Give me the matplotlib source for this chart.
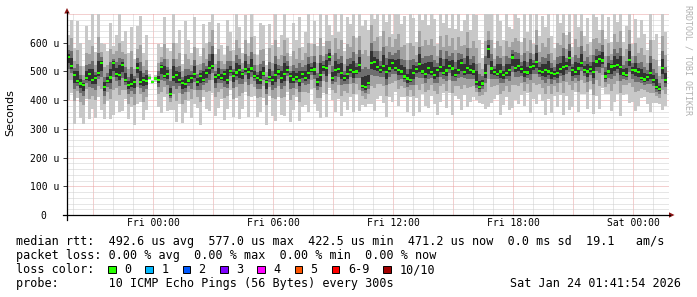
import numpy as np
import matplotlib
matplotlib.use("Agg")
import matplotlib.pyplot as plt
from matplotlib.patches import Polygon, Rectangle
from matplotlib.lines import Line2D

# ── data (µs), one value per 9-minute step, Thu 19:42 .. Sat 01:42 ──────────
MED = [
    551, 520, 488, 466, 458, 453, 478, 490, 470, 477,
    495, 529, 446, 467, 479, 529, 492, 488, 522, 470,
    453, 455, 463, 512, 463, 470, 466, 478, 462, 475,
    470, 515, 485, 492, 422, 480, 488, 470, 460, 455,
    468, 478, 490, 462, 485, 470, 495, 512, 520, 480,
    488, 478, 492, 470, 502, 485, 496, 505, 490, 508,
    498, 510, 485, 476, 470, 493, 462, 480, 471, 488,
    500, 478, 490, 505, 485, 472, 480, 468, 490, 478,
    495, 505, 507, 463, 488, 515, 512, 551, 477, 505,
    508, 495, 477, 490, 505, 498, 500, 522, 449, 445,
    460, 530, 532, 515, 505, 520, 498, 510, 530, 512,
    505, 500, 482, 475, 470, 495, 508, 525, 500, 490,
    512, 498, 488, 505, 515, 495, 503, 520, 510, 488,
    505, 530, 498, 512, 505, 500, 462, 445, 458, 495,
    577, 510, 498, 492, 500, 488, 495, 505, 548, 512,
    520, 508, 498, 496, 515, 520, 533, 502, 498, 505,
    500, 495, 490, 495, 508, 515, 518, 547, 505, 498,
    510, 530, 505, 500, 508, 498, 535, 543, 538, 482,
    500, 517, 520, 522, 515, 493, 488, 540, 505, 503,
    498, 478, 472, 480, 495, 470, 445, 438, 512, 471,
]
# slowest ping, distance above the median
MAX_UP = [
    75, 160, 95, 210, 140, 65, 180, 120, 230, 90,
    215, 70, 150, 105, 190, 60, 135, 225, 85, 170,
    110, 200, 80, 145, 230, 95, 160, 14, 9, 12,
    125, 70, 205, 90, 150, 230, 110, 175, 65, 220,
    140, 85, 200, 120, 70, 195, 105, 160, 235, 80,
    180, 115, 65, 210, 135, 90, 225, 150, 75, 190,
    100, 215, 140, 80, 200, 170, 60, 185, 120, 230,
    85, 150, 235, 110, 70, 195, 130, 220, 95, 160,
    205, 90, 170, 125, 240, 75, 185, 110, 150, 215,
    130, 225, 95, 200, 160, 240, 115, 190, 210, 235,
    185, 240, 150, 200, 120, 230, 175, 215, 100, 205,
    235, 165, 210, 125, 240, 190, 95, 220, 180, 230,
    150, 225, 195, 90, 215, 175, 235, 130, 205, 160,
    220, 110, 180, 240, 140, 200, 235, 165, 90, 215,
    130, 190, 85, 225, 175, 120, 210, 150, 100, 200,
    165, 95, 230, 140, 185, 75, 215, 120, 195, 150,
    225, 130, 90, 205, 160, 230, 110, 175, 80, 220,
    145, 210, 120, 185, 95, 225, 155, 100, 200, 130,
    190, 85, 215, 150, 235, 110, 170, 205, 90, 180,
    120, 200, 160, 95, 225, 140, 185, 80, 210, 165,
]
# fastest ping, distance below the median
MIN_DN = [
    150, 95, 170, 60, 120, 135, 75, 155, 100, 140,
    85, 165, 110, 70, 145, 180, 95, 130, 160, 65,
    120, 80, 150, 125, 70, 140, 100, 9, 7, 11,
    95, 160, 75, 130, 55, 115, 165, 85, 140, 100,
    70, 140, 105, 90, 170, 60, 125, 150, 95, 135,
    115, 75, 160, 100, 65, 145, 90, 170, 120, 80,
    155, 100, 70, 135, 110, 85, 150, 65, 125, 160,
    90, 130, 145, 75, 160, 105, 70, 140, 115, 95,
    135, 65, 120, 100, 150, 90, 170, 110, 75, 145,
    105, 150, 85, 125, 95, 140, 80, 160, 65, 70,
    75, 145, 170, 110, 90, 130, 155, 100, 135, 85,
    125, 90, 70, 115, 60, 150, 100, 165, 80, 110,
    140, 85, 100, 155, 120, 70, 130, 95, 160, 75,
    100, 165, 80, 135, 110, 90, 60, 55, 70, 125,
    200, 120, 95, 75, 150, 105, 85, 140, 175, 110,
    135, 90, 120, 70, 160, 115, 145, 80, 100, 155,
    95, 140, 75, 120, 90, 165, 105, 180, 130, 70,
    150, 110, 85, 130, 70, 145, 120, 175, 95, 60,
    80, 155, 125, 100, 170, 75, 65, 150, 110, 140,
    120, 70, 60, 95, 135, 80, 55, 50, 145, 90,
]
B2_UP = [
    40, 95, 50, 110, 60, 35, 85, 70, 120, 45,
    125, 40, 70, 55, 100, 30, 80, 110, 45, 90,
    55, 115, 45, 65, 130, 50, 75, 7, 5, 6,
    60, 35, 110, 50, 85, 120, 55, 95, 40, 105,
    75, 45, 95, 60, 40, 110, 50, 90, 125, 45,
    90, 60, 35, 120, 70, 50, 115, 75, 40, 100,
    55, 110, 75, 45, 105, 85, 35, 100, 60, 120,
    45, 80, 120, 60, 35, 100, 65, 115, 50, 85,
    105, 50, 90, 65, 130, 40, 95, 55, 80, 110,
    70, 115, 50, 105, 80, 125, 60, 100, 110, 130,
    95, 130, 75, 105, 65, 120, 90, 110, 55, 100,
    125, 85, 110, 65, 130, 95, 50, 115, 90, 120,
    80, 115, 100, 50, 110, 90, 125, 70, 105, 85,
    115, 60, 95, 125, 75, 105, 120, 85, 50, 110,
    65, 100, 45, 115, 90, 65, 110, 80, 55, 105,
    85, 50, 120, 75, 95, 40, 110, 65, 100, 80,
    115, 70, 50, 105, 85, 120, 60, 90, 45, 115,
    75, 110, 65, 95, 50, 115, 80, 55, 105, 70,
    100, 45, 110, 80, 125, 60, 90, 105, 50, 95,
    65, 105, 85, 50, 115, 75, 95, 45, 110, 85,
]
B2_DN = [
    80, 50, 90, 35, 65, 70, 40, 85, 55, 75,
    45, 90, 60, 40, 75, 95, 50, 70, 85, 35,
    65, 45, 80, 65, 40, 75, 55, 5, 4, 6,
    50, 85, 40, 70, 30, 60, 90, 45, 75, 55,
    40, 75, 55, 50, 90, 35, 65, 80, 50, 70,
    60, 40, 85, 55, 35, 80, 50, 90, 65, 45,
    85, 55, 40, 70, 60, 45, 80, 35, 65, 85,
    50, 70, 80, 40, 85, 55, 40, 75, 60, 50,
    70, 35, 65, 55, 80, 50, 90, 60, 40, 80,
    55, 80, 45, 65, 50, 75, 45, 85, 35, 40,
    40, 80, 90, 60, 50, 70, 85, 55, 70, 45,
    65, 50, 40, 60, 35, 80, 55, 90, 45, 60,
    75, 45, 55, 85, 65, 40, 70, 50, 85, 40,
    55, 90, 45, 70, 60, 50, 35, 30, 40, 65,
    105, 65, 50, 40, 80, 55, 45, 75, 95, 60,
    70, 50, 65, 40, 85, 60, 80, 45, 55, 85,
    50, 75, 40, 65, 50, 90, 55, 95, 70, 40,
    80, 60, 45, 70, 40, 80, 65, 95, 50, 35,
    45, 85, 65, 55, 90, 40, 35, 80, 60, 75,
    65, 40, 35, 50, 70, 45, 30, 30, 75, 50,
]
B3_UP = [
    22, 50, 25, 60, 30, 18, 45, 35, 65, 22,
    70, 20, 35, 28, 55, 15, 40, 60, 22, 45,
    28, 60, 22, 35, 70, 25, 40, 3, 2, 3,
    30, 18, 60, 25, 45, 65, 28, 50, 20, 55,
    40, 22, 50, 30, 20, 58, 25, 48, 68, 22,
    48, 30, 18, 65, 35, 25, 60, 38, 20, 52,
    28, 58, 38, 22, 55, 45, 18, 52, 30, 65,
    22, 42, 65, 30, 18, 52, 32, 60, 25, 45,
    55, 25, 48, 32, 70, 20, 50, 28, 42, 58,
    35, 60, 25, 55, 42, 68, 30, 52, 58, 70,
    50, 70, 38, 55, 32, 65, 48, 58, 28, 52,
    68, 45, 58, 32, 70, 50, 25, 60, 48, 65,
    42, 60, 52, 25, 58, 48, 68, 35, 55, 45,
    60, 30, 50, 68, 38, 55, 65, 45, 25, 58,
    32, 52, 22, 60, 48, 32, 58, 42, 28, 55,
    45, 25, 65, 38, 50, 20, 58, 32, 52, 42,
    60, 35, 25, 55, 45, 65, 30, 48, 22, 60,
    38, 58, 32, 50, 25, 60, 42, 28, 55, 35,
    52, 22, 58, 42, 68, 30, 48, 55, 25, 50,
    32, 55, 45, 25, 60, 38, 50, 22, 58, 45,
]
B3_DN = [
    42, 25, 48, 18, 32, 38, 20, 45, 28, 40,
    22, 48, 30, 20, 40, 50, 25, 38, 45, 18,
    32, 22, 42, 35, 20, 40, 28, 2, 2, 3,
    25, 45, 20, 38, 15, 30, 48, 22, 40, 28,
    20, 40, 28, 25, 48, 18, 35, 42, 25, 38,
    30, 20, 45, 28, 18, 42, 25, 48, 35, 22,
    45, 28, 20, 38, 30, 22, 42, 18, 35, 45,
    25, 38, 42, 20, 45, 28, 20, 40, 30, 25,
    38, 18, 35, 28, 42, 25, 48, 30, 20, 42,
    28, 42, 22, 35, 25, 40, 22, 45, 18, 20,
    20, 42, 48, 30, 25, 38, 45, 28, 38, 22,
    35, 25, 20, 30, 18, 42, 28, 48, 22, 30,
    40, 22, 28, 45, 35, 20, 38, 25, 45, 20,
    28, 48, 22, 38, 30, 25, 18, 15, 20, 35,
    55, 35, 25, 20, 42, 28, 22, 40, 50, 30,
    38, 25, 35, 20, 45, 30, 42, 22, 28, 45,
    25, 40, 20, 35, 25, 48, 28, 50, 38, 20,
    42, 30, 22, 38, 20, 42, 35, 50, 25, 18,
    22, 45, 35, 28, 48, 20, 18, 42, 30, 40,
    35, 20, 18, 25, 38, 22, 15, 15, 40, 25,
]
B4_UP = [
    10, 28, 12, 35, 14, 8, 22, 18, 38, 10,
    40, 9, 18, 12, 30, 7, 20, 35, 10, 24,
    13, 35, 10, 18, 40, 12, 20, 1, 1, 1,
    15, 8, 35, 12, 22, 38, 13, 28, 9, 30,
    20, 10, 28, 15, 9, 32, 12, 25, 40, 10,
    25, 14, 8, 38, 17, 12, 35, 18, 9, 28,
    13, 32, 18, 10, 30, 22, 8, 28, 14, 38,
    10, 22, 38, 14, 8, 28, 15, 35, 12, 22,
    30, 12, 25, 15, 40, 9, 27, 13, 22, 32,
    17, 35, 12, 30, 20, 40, 14, 28, 32, 40,
    27, 40, 18, 30, 15, 38, 25, 32, 13, 28,
    38, 22, 32, 15, 40, 27, 12, 35, 25, 38,
    22, 35, 28, 12, 32, 25, 40, 17, 30, 22,
    35, 14, 27, 40, 18, 30, 38, 22, 12, 32,
    15, 28, 10, 35, 25, 15, 32, 20, 13, 30,
    22, 12, 38, 18, 27, 9, 32, 15, 28, 20,
    35, 17, 12, 30, 22, 38, 14, 25, 10, 35,
    18, 32, 15, 27, 12, 35, 20, 13, 30, 17,
    28, 10, 32, 20, 40, 14, 25, 30, 12, 27,
    15, 30, 22, 12, 35, 18, 27, 10, 32, 22,
]
B4_DN = [
    22, 12, 27, 8, 15, 20, 9, 25, 13, 20,
    10, 27, 14, 9, 20, 28, 12, 18, 25, 8,
    15, 10, 22, 18, 9, 20, 13, 1, 1, 1,
    12, 25, 9, 20, 7, 14, 27, 10, 22, 13,
    9, 20, 13, 12, 27, 8, 18, 22, 12, 20,
    14, 9, 25, 13, 8, 22, 12, 27, 18, 10,
    25, 13, 9, 20, 14, 10, 22, 8, 18, 25,
    12, 20, 22, 9, 25, 13, 9, 20, 14, 12,
    20, 8, 18, 13, 22, 12, 27, 14, 9, 22,
    13, 22, 10, 18, 12, 20, 10, 25, 8, 9,
    9, 22, 27, 14, 12, 20, 25, 13, 20, 10,
    18, 12, 9, 14, 8, 22, 13, 27, 10, 14,
    20, 10, 13, 25, 18, 9, 20, 12, 25, 9,
    13, 27, 10, 20, 14, 12, 8, 7, 9, 18,
    30, 18, 12, 9, 22, 13, 10, 20, 28, 14,
    20, 12, 18, 9, 25, 14, 22, 10, 13, 25,
    12, 20, 9, 18, 12, 27, 13, 28, 20, 9,
    22, 14, 10, 20, 9, 22, 18, 28, 12, 8,
    10, 25, 18, 13, 27, 9, 8, 22, 14, 20,
    18, 9, 8, 12, 20, 10, 7, 7, 22, 12,
]

START_H = -4.3      # hours relative to Fri 00:00
STEP_H = 0.15       # 9 minutes

X_TICKS = [0, 6, 12, 18, 24]
X_TICK_LABELS = ["Fri 00:00", "Fri 06:00", "Fri 12:00", "Fri 18:00", "Sat 00:00"]
Y_TICKS = [0, 100, 200, 300, 400, 500, 600]
Y_TICK_LABELS = ["0  ", "100 u", "200 u", "300 u", "400 u", "500 u", "600 u"]

LOSS_LABELS = ["0", "1", "2", "3", "4", "5", "6-9", "10/10"]
LOSS_COLORS = ["#26ff00", "#00b8ff", "#0059ff", "#7e00ff",
               "#ff00ff", "#ff5500", "#ff0000", "#a10000"]

ROW_MEDIAN = ("median rtt:  492.6 us avg  577.0 us max  422.5 us min  "
              "471.2 us now  0.0 ms sd  19.1   am/s")
ROW_LOSS = "packet loss: 0.00 % avg  0.00 % max  0.00 % min  0.00 % now"
ROW_COLOR = "loss color:"
ROW_PROBE = "probe:       10 ICMP Echo Pings (56 Bytes) every 300s"
STAMP = "Sat Jan 24 01:41:54 2026"

# ── style ───────────────────────────────────────────────────────────────────
MONO = "DejaVu Sans Mono"
SMOKE = ["#c8c8c8", "#a2a2a2", "#6e6e6e", "#323232"]
MED_COLOR = LOSS_COLORS[0]
GRID_MINOR = "#cfcfcf"
GRID_MAJOR = "#e8a0a0"
ARROW = "#8b1414"

W, H = 697, 297
fig = plt.figure(figsize=(W / 100, H / 100), dpi=100, facecolor="white")
ax = fig.add_axes([67 / W, (H - 215) / H, 602 / W, 201 / H])
ax.set_xlim(-4.3, 25.8)
ax.set_ylim(0, 700)
for s in ax.spines.values():
    s.set_visible(False)

# grid, behind the smoke
dots = (0, (1, 1))
for h in range(-4, 26):
    ax.axvline(h, color=GRID_MAJOR if h % 3 == 0 else GRID_MINOR,
               lw=0.72, ls=dots, zorder=0)
for v in range(20, 701, 20):
    ax.axhline(v, color=GRID_MAJOR if v % 100 == 0 else GRID_MINOR,
               lw=0.72, ls=dots, zorder=0)

# smoke bands
med = np.array(MED, float)
edges = START_H + STEP_H * np.arange(len(med) + 1)


def band(lo, hi, color, z):
    lo = np.append(lo, lo[-1])
    hi = np.append(hi, hi[-1])
    ax.fill_between(edges, lo, hi, step="post", color=color,
                    linewidth=0, zorder=z)


band(med - np.array(MIN_DN), med + np.array(MAX_UP), SMOKE[0], 1)
band(med - np.array(B2_DN), med + np.array(B2_UP), SMOKE[1], 2)
band(med - np.array(B3_DN), med + np.array(B3_UP), SMOKE[2], 3)
band(med - np.array(B4_DN), med + np.array(B4_UP), SMOKE[3], 4)

# median marks, one per step
ax.bar(edges[:-1], 8, bottom=med - 4, width=STEP_H, align="edge",
       color=MED_COLOR, linewidth=0, zorder=5)

# ticks
ax.set_xticks(X_TICKS, labels=X_TICK_LABELS)
ax.set_yticks(Y_TICKS, labels=Y_TICK_LABELS)
ax.tick_params(axis="x", length=0, pad=2.5, labelsize=7)
ax.tick_params(axis="y", direction="out", length=2.9, width=0.72,
               color="#404040", pad=2.9, labelsize=7)
for lab in ax.get_xticklabels() + ax.get_yticklabels():
    lab.set_fontfamily(MONO)

# ── overlay in pixel coordinates: axis lines, arrows, legend ────────────────
ov = fig.add_axes([0, 0, 1, 1])
ov.set_xlim(0, W)
ov.set_ylim(H, 0)
ov.axis("off")
ov.patch.set_visible(False)

ov.add_line(Line2D([62.5, 669.5], [215, 215], color="black", lw=0.9))
ov.add_line(Line2D([67, 67], [219.5, 12], color="black", lw=0.9))
ov.add_patch(Polygon([(669, 212.3), (674.5, 215), (669, 217.7)], closed=True,
                     color=ARROW, lw=0))
ov.add_patch(Polygon([(64.3, 13.5), (67, 8), (69.7, 13.5)], closed=True,
                     color=ARROW, lw=0))

fig.text(10.5 / W, 1 - 113 / H, "Seconds", rotation=90, ha="center",
         va="center", fontsize=8, family="DejaVu Sans")
fig.text(688 / W, 1 - 5 / H, "RRDTOOL / TOBI OETIKER", rotation=-90,
         ha="center", va="top", fontsize=6, family=MONO, color="#b0b0b0")

base = [245.3, 259.3, 273.3, 287.3]
ov.text(16, base[0], ROW_MEDIAN, family=MONO, fontsize=8.5, va="baseline")
ov.text(16, base[1], ROW_LOSS, family=MONO, fontsize=8.5, va="baseline")
ov.text(16, base[2], ROW_COLOR, family=MONO, fontsize=8.5, va="baseline")
ov.text(16, base[3], ROW_PROBE, family=MONO, fontsize=8.5, va="baseline")
ov.text(680.5, base[3], STAMP, family=MONO, fontsize=8.5, va="baseline",
        ha="right")

bx = 108.0
for lab, col in zip(LOSS_LABELS, LOSS_COLORS):
    ov.add_patch(Rectangle((bx, 265.8), 7.6, 7.6, facecolor=col,
                           edgecolor="black", lw=0.7))
    ov.text(bx + 16, base[2], lab, family=MONO, fontsize=8.5, va="baseline")
    bx += 16 + 7.1 * len(lab) + 14.2

fig.savefig("out.png", dpi=100, facecolor="white")
